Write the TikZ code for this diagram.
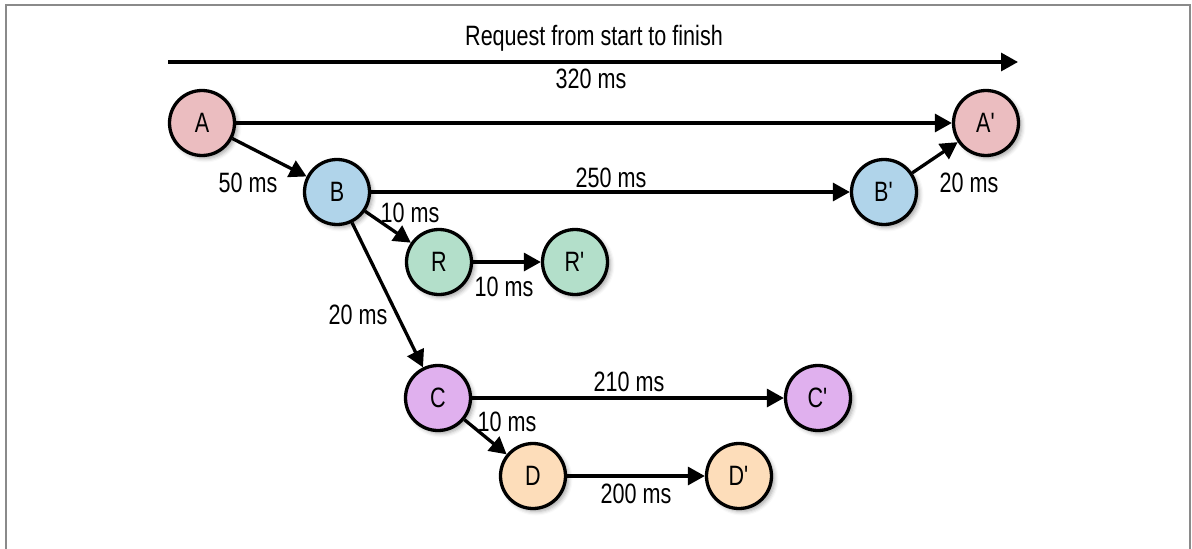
\documentclass[tikz,border=0pt]{standalone}
\usepackage{fontspec}
\setmainfont{Liberation Sans}[FakeStretch=0.77]
\usetikzlibrary{arrows.meta,shadows.blur}
\definecolor{cA}{HTML}{EBBDC0}
\definecolor{cB}{HTML}{B0D4EA}
\definecolor{cR}{HTML}{B3DFCA}
\definecolor{cC}{HTML}{E0B0EE}
\definecolor{cD}{HTML}{FDDDBA}
\definecolor{frame}{HTML}{8A8A8A}
\newcommand{\pr}{\textquotesingle}
\begin{document}
\begin{tikzpicture}[x=1pt,y=-1pt,
  every node/.style={font=\fontsize{28}{32}\selectfont, inner sep=0pt},
  circ/.style={circle, draw=black, line width=3.3pt, minimum size=65pt, inner sep=0pt,
    blur shadow={shadow xshift=3pt, shadow yshift=-3pt, shadow blur radius=4pt, shadow opacity=35}},
  conn/.style={line width=3.3pt, -{Triangle[length=17pt,width=18pt]}}]
\useasboundingbox (0,0) rectangle (1192,549);
\draw[frame, line width=2pt] (6,549) -- (6,5) -- (1190,5) -- (1190,549);

% timeline
\coordinate (ts) at (168,62);
\coordinate (te) at (1018,62);
\draw[conn] (ts) -- (te);
\node (title) at (594,38) {Request from start to finish};
\node (t320) at (591,79) {320 ms};

% circles
\node[circ, fill=cA] (A)  at (202,123) {A};
\node[circ, fill=cA] (A2) at (986,123) {A\pr};
\node[circ, fill=cB] (B)  at (337,192) {B};
\node[circ, fill=cB] (B2) at (884,192) {B\pr};
\node[circ, fill=cR] (R)  at (439,262) {R};
\node[circ, fill=cR] (R2) at (575,262) {R\pr};
\node[circ, fill=cC] (C)  at (438,398) {C};
\node[circ, fill=cC] (C2) at (818,398) {C\pr};
\node[circ, fill=cD] (D)  at (533,476) {D};
\node[circ, fill=cD] (D2) at (739,476) {D\pr};

% connectors
\draw[conn] (A) -- (A2);
\draw[conn] (A) -- (B);
\draw[conn] (B) -- (B2);
\draw[conn] (B2) -- (A2);
\draw[conn] (B) -- (R);
\draw[conn] (R) -- (R2);
\draw[conn] (B) -- (C);
\draw[conn] (C) -- (C2);
\draw[conn] (C) -- (D);
\draw[conn] (D) -- (D2);

% labels
\node (l50)  at (248,183) {50 ms};
\node (l250) at (611,178) {250 ms};
\node (l20a) at (969,183) {20 ms};
\node (l10a) at (410,213) {10 ms};
\node (l10b) at (504,287) {10 ms};
\node (l20b) at (358,315) {20 ms};
\node (l210) at (629,382) {210 ms};
\node (l10c) at (507,422) {10 ms};
\node (l200) at (636,494) {200 ms};
\end{tikzpicture}
\end{document}
